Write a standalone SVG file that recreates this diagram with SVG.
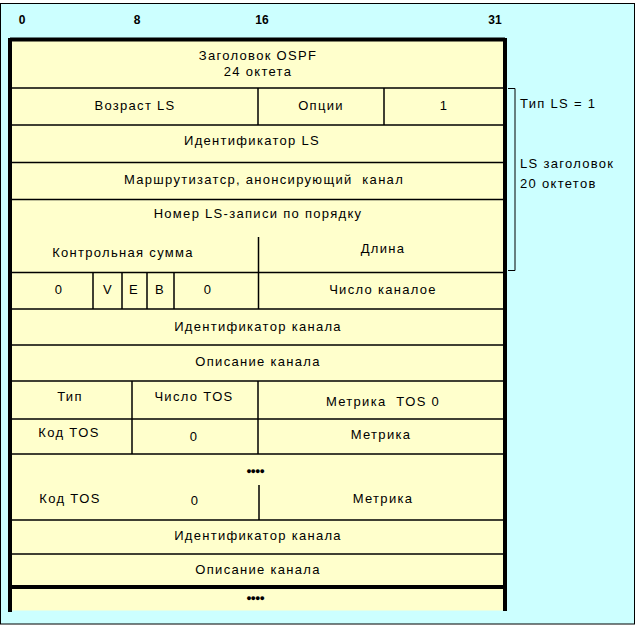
<svg xmlns="http://www.w3.org/2000/svg" width="638" height="630" viewBox="0 0 638 630">
<style>
text{font-family:"Liberation Sans",Arial,sans-serif;font-size:13px;fill:#000;letter-spacing:1.3px}
.c{text-anchor:middle}
.b{font-weight:bold;font-size:12px;letter-spacing:0}
.ln{stroke:#000;stroke-width:1.5;fill:none}
.thick{stroke:#000;stroke-width:4;fill:none}
.thin{stroke:#000;stroke-width:1;fill:none}
.dots{font-size:9px;letter-spacing:-1px}
</style>
<rect x="0" y="0" width="638" height="630" fill="#ffffff"/>
<rect x="0.5" y="3.5" width="634" height="620.5" fill="#ccffff" stroke="#000" stroke-width="1"/>
<g id="bits">
<text class="b c" x="22" y="24">0</text>
<text class="b c" x="137" y="24">8</text>
<text class="b c" x="262" y="24">16</text>
<text class="b c" x="495" y="24">31</text>
</g>
<rect x="10" y="39.5" width="495" height="571" fill="#ffffcc"/>
<g id="connectors">
<line class="ln" x1="12" y1="88" x2="503" y2="88"/>
<line class="ln" x1="12" y1="125" x2="503" y2="125"/>
<line class="ln" x1="12" y1="162.5" x2="503" y2="162.5"/>
<line class="ln" x1="12" y1="199.5" x2="503" y2="199.5"/>
<line class="ln" x1="12" y1="272.5" x2="503" y2="272.5"/>
<line class="ln" x1="12" y1="309" x2="503" y2="309"/>
<line class="ln" x1="12" y1="345" x2="503" y2="345"/>
<line class="ln" x1="12" y1="381" x2="503" y2="381"/>
<line class="ln" x1="12" y1="419" x2="503" y2="419"/>
<line class="ln" x1="12" y1="454" x2="503" y2="454"/>
<line class="ln" x1="12" y1="520" x2="503" y2="520"/>
<line class="ln" x1="12" y1="554" x2="503" y2="554"/>
<line class="ln" x1="258" y1="88" x2="258" y2="125"/>
<line class="ln" x1="384" y1="88" x2="384" y2="125"/>
<line class="ln" x1="258.5" y1="237" x2="258.5" y2="309"/>
<line class="ln" x1="93" y1="272.5" x2="93" y2="309"/>
<line class="ln" x1="122" y1="272.5" x2="122" y2="309"/>
<line class="ln" x1="147" y1="272.5" x2="147" y2="309"/>
<line class="ln" x1="174" y1="272.5" x2="174" y2="309"/>
<line class="ln" x1="132" y1="381" x2="132" y2="454"/>
<line class="ln" x1="258" y1="381" x2="258" y2="454"/>
<line class="ln" x1="259" y1="485" x2="259" y2="520"/>
<line class="thick" x1="10" y1="39.5" x2="505" y2="39.5"/>
<line class="thick" x1="10" y1="38" x2="10" y2="612"/>
<line class="thick" x1="505" y1="38" x2="505" y2="611"/>
<line class="thick" x1="10" y1="587" x2="505" y2="587"/>
<path class="thin" d="M508 88.5 H515 V270.5 H508"/>
</g>
<g id="header"><text class="c" x="258" y="60">Заголовок OSPF</text><text class="c" x="258" y="76">24 октета</text></g>
<g id="age"><text class="c" x="135" y="110">Возраст LS</text></g>
<g id="options"><text class="c" x="321" y="110">Опции</text></g>
<g id="type"><text class="c" x="444" y="110">1</text></g>
<g id="lsid"><text class="c" x="252" y="145">Идентификатор LS</text></g>
<g id="router"><text class="c" x="264" y="184" xml:space="preserve">Маршрутизатср, анонсирующий  канал</text></g>
<g id="seq"><text class="c" x="258" y="218">Номер LS-записи по порядку</text></g>
<g id="checksum"><text class="c" x="123" y="257">Контрольная сумма</text></g>
<g id="length"><text class="c" x="383" y="253">Длина</text></g>
<g id="flags">
<text class="c" x="59" y="294">0</text>
<text class="c" x="108" y="294">V</text>
<text class="c" x="134" y="294">E</text>
<text class="c" x="160" y="294">B</text>
<text class="c" x="208" y="294">0</text>
</g>
<g id="links"><text class="c" x="383" y="294">Число каналое</text></g>
<g id="linkid1"><text class="c" x="258" y="331">Идентификатор канала</text></g>
<g id="linkdata1"><text class="c" x="258" y="366">Описание канала</text></g>
<g id="ltype"><text class="c" x="70" y="401">Тип</text></g>
<g id="ntos"><text class="c" x="194" y="401">Число TOS</text></g>
<g id="metric0"><text class="c" x="383" y="406" xml:space="preserve">Метрика  TOS 0</text></g>
<g id="tos1"><text class="c" x="69" y="437">Код TOS</text><text class="c" x="194" y="441">0</text><text class="c" x="381" y="439">Метрика</text></g>
<g id="dots1"><text class="c dots" x="255" y="474">●●●●</text></g>
<g id="tos2"><text class="c" x="70" y="503">Код TOS</text><text class="c" x="195" y="505">0</text><text class="c" x="383" y="503">Метрика</text></g>
<g id="linkid2"><text class="c" x="258" y="540">Идентификатор канала</text></g>
<g id="linkdata2"><text class="c" x="258" y="574">Описание канала</text></g>
<g id="dots2"><text class="c dots" x="255" y="601">●●●●</text></g>
<g id="annot">
<text x="520" y="108">Тип LS = 1</text>
<text x="520" y="168">LS заголовок</text>
<text x="520" y="188">20 октетов</text>
</g>
</svg>
